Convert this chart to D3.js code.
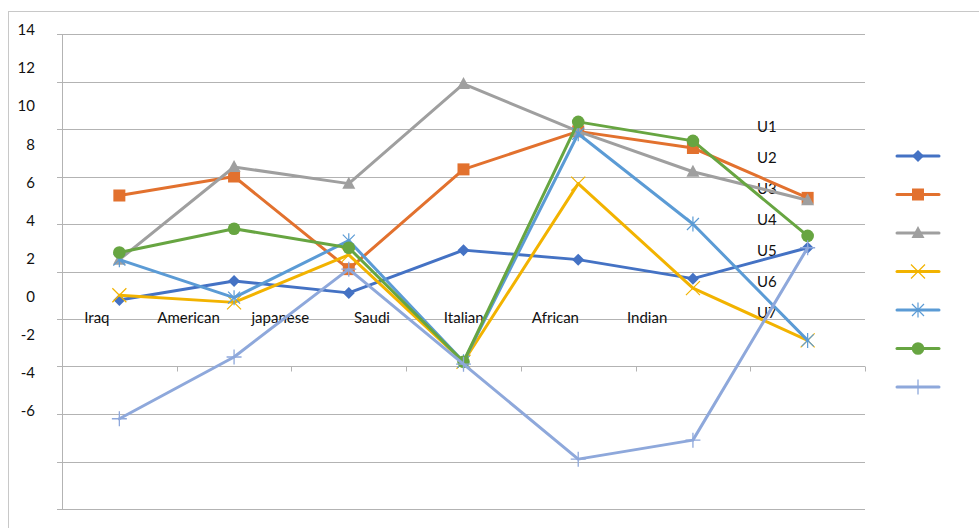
<!DOCTYPE html>
<html><head><meta charset="utf-8">
<script src="https://cdn.jsdelivr.net/npm/d3@7"></script>
<style>html,body{margin:0;padding:0;background:#fff;overflow:hidden}</style>
</head><body>
<svg id="c" width="979" height="528"></svg>
<script>
const categories = ["Iraq","American","japanese","Saudi","Italian","African","Indian"];
const seriesNames = ["U1","U2","U3","U4","U5","U6","U7"];
const u1 = [2.8, 3.6, 3.1, 4.9, 4.5, 3.7, 5.0];
const u2 = [7.2, 8.0, 4.1, 8.3, 9.9, 9.2, 7.1];
const u3 = [4.5, 8.4, 7.7, 11.9, 9.9, 8.2, 7.0];
const u4 = [3.0, 2.7, 4.7, 0.2, 7.7, 3.3, 1.1];
const u5 = [4.5, 2.9, 5.3, 0.2, 9.8, 6.0, 1.1];
const u6 = [4.8, 5.8, 5.0, 0.2, 10.3, 9.5, 5.5];
const u7 = [-2.2, 0.4, 4.1, 0.1, -3.9, -3.1, 5.0];
const yTicks = [14, 12, 10, 8, 6, 4, 2, 0, -2, -4, -6];

const seriesValues = [u1,u2,u3,u4,u5,u6,u7];
const colors = ["#4472C4","#E2712E","#9F9F9F","#F2B300","#5B9BD5","#67A541","#8EA8DB"];
const markers = ["diamond","square","triangle","x","star","circle","plus"];

const svg = d3.select("#c");
const font = "Lato, 'Open Sans', sans-serif";

// chart area border
svg.append("rect").attr("x",8.5).attr("y",11.5).attr("width",1200).attr("height",700)
  .attr("fill","none").attr("stroke","#c8c8c8").attr("stroke-width",1);

const pLeft = 62, pRight = 865, pTop = 34, pBottom = 509;
const x = d3.scaleBand().domain(categories).range([pLeft, pRight]);
const y = d3.scaleLinear().domain([-6, 14]).range([pBottom, pTop]);

// gridlines (with outside ticks on the value axis)
svg.append("g").selectAll("line").data(yTicks).join("line")
  .attr("x1", pLeft - 5).attr("x2", pRight)
  .attr("y1", d => Math.round(y(d)) + 0.5).attr("y2", d => Math.round(y(d)) + 0.5)
  .attr("stroke", "#b3b3b3").attr("stroke-width", 1);

// value axis line
svg.append("line").attr("x1", pLeft + 0.5).attr("x2", pLeft + 0.5)
  .attr("y1", pTop).attr("y2", pBottom).attr("stroke", "#b3b3b3");

// category axis at 0 with tick marks
const xAxis = d3.axisBottom(x).tickSize(0).tickFormat("");
const gx = svg.append("g").attr("transform", `translate(0,${Math.round(y(0)) + 0.5})`).call(xAxis);
gx.select(".domain").attr("stroke", "#b3b3b3").attr("d", `M${pLeft},0H${pRight}`);
const bounds = categories.map(c => x(c)).concat([pRight]);
gx.selectAll(".bt").data(bounds.slice(1)).join("line").attr("class","bt")
  .attr("x1", d => Math.round(d) + 0.5).attr("x2", d => Math.round(d) + 0.5)
  .attr("y1", 0).attr("y2", 5).attr("stroke", "#b3b3b3");

// Labels are drawn on a shrunken layer (as in the reference)
const yLab = d3.scaleLinear().domain([-6, 14]).range([411, 30]);
const xLab = d3.scaleBand().domain(categories).range([51, 693]);

svg.append("g").selectAll("text").data(yTicks).join("text")
  .attr("x", 35).attr("y", d => yLab(d)).attr("dy", "0.35em")
  .attr("text-anchor", "end").attr("font-family", font).attr("font-size", 15)
  .attr("fill", "#111").text(d => d);

svg.append("g").selectAll("text").data(categories).join("text")
  .attr("x", d => xLab(d) + xLab.bandwidth() / 2).attr("y", 318).attr("dy", "0.35em")
  .attr("text-anchor", "middle").attr("font-family", font).attr("font-size", 15)
  .attr("fill", "#111").text(d => d);

const uLab = d3.scalePoint().domain(seriesNames).range([127, 313]);
svg.append("g").selectAll("text").data(seriesNames).join("text")
  .attr("x", 757).attr("y", d => uLab(d)).attr("dy", "0.35em")
  .attr("font-family", font).attr("font-size", 15).attr("fill", "#111").text(d => d);

function drawMarker(g, type, cx, cy, color) {
  if (type === "diamond") {
    g.append("path").attr("d", `M${cx},${cy-6}L${cx+6},${cy}L${cx},${cy+6}L${cx-6},${cy}Z`).attr("fill", color);
  } else if (type === "square") {
    g.append("rect").attr("x", cx-6).attr("y", cy-6).attr("width", 12).attr("height", 12).attr("fill", color);
  } else if (type === "triangle") {
    g.append("path").attr("d", `M${cx},${cy-7}L${cx+6.5},${cy+5}L${cx-6.5},${cy+5}Z`).attr("fill", color);
  } else if (type === "circle") {
    g.append("circle").attr("cx", cx).attr("cy", cy).attr("r", 6.3).attr("fill", color);
  } else if (type === "x") {
    g.append("path").attr("d", `M${cx-7},${cy-7}L${cx+7},${cy+7}M${cx-7},${cy+7}L${cx+7},${cy-7}`)
      .attr("stroke", color).attr("stroke-width", 1.2).attr("fill", "none");
  } else if (type === "star") {
    g.append("path").attr("d", `M${cx-6},${cy-6}L${cx+6},${cy+6}M${cx-6},${cy+6}L${cx+6},${cy-6}M${cx},${cy-7.5}L${cx},${cy+7.5}`)
      .attr("stroke", color).attr("stroke-width", 1.2).attr("fill", "none");
  } else if (type === "plus") {
    g.append("path").attr("d", `M${cx-7.5},${cy}L${cx+7.5},${cy}M${cx},${cy-7.5}L${cx},${cy+7.5}`)
      .attr("stroke", color).attr("stroke-width", 1.3).attr("fill", "none");
  }
}

const line = d3.line().x((d, i) => x(categories[i]) + x.bandwidth() / 2).y(d => y(d));
seriesValues.forEach((vals, s) => {
  const g = svg.append("g");
  g.append("path").datum(vals).attr("d", line).attr("fill", "none")
    .attr("stroke", colors[s]).attr("stroke-width", 3).attr("stroke-linejoin", "round").attr("stroke-linecap", "round");
  vals.forEach((v, i) => drawMarker(g, markers[s], x(categories[i]) + x.bandwidth() / 2, y(v), colors[s]));
});

// legend (symbols only)
const legY = d3.scalePoint().domain(seriesNames).range([156, 387]);
seriesNames.forEach((n, s) => {
  const g = svg.append("g");
  const ly = legY(n);
  g.append("line").attr("x1", 897).attr("x2", 939).attr("y1", ly).attr("y2", ly)
    .attr("stroke", colors[s]).attr("stroke-width", 3).attr("stroke-linecap", "round");
  drawMarker(g, markers[s], 918, ly, colors[s]);
});
</script>
</body></html>
